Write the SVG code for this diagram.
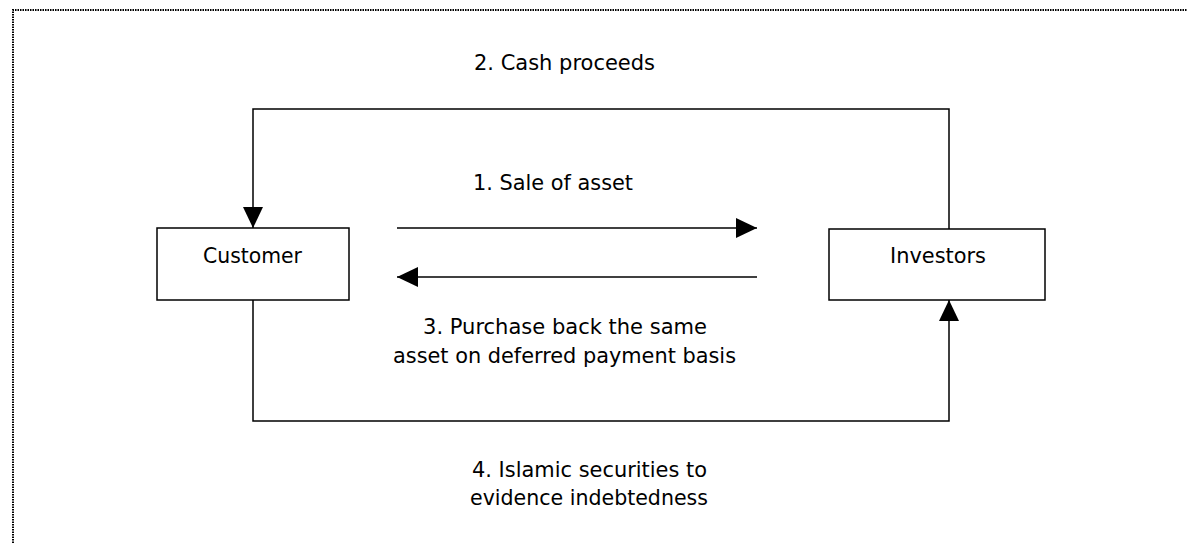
<svg xmlns="http://www.w3.org/2000/svg" width="1187" height="543" viewBox="0 0 1187 543">
<style>
.frame{fill:none;stroke:#000;stroke-width:2;stroke-dasharray:1.5 1}
.box{fill:#fff;stroke:#000;stroke-width:1.5}
.conn{fill:none;stroke:#000;stroke-width:1.5}
.lbl{font-family:"DejaVu Sans",Verdana,sans-serif;font-size:21px;fill:#000}
</style>
<defs>
<marker id="ah" viewBox="0 0 21 20" refX="21" refY="10" markerWidth="21" markerHeight="20" markerUnits="userSpaceOnUse" orient="auto">
<path d="M0,0 L21,10 L0,20 Z" fill="#000"/>
</marker>
</defs>
<rect width="1187" height="543" fill="#fff"/>
<path class="frame" d="M13,543 L13,10 L1187,10"/>
<g id="connectors">
<path class="conn" d="M949,229 L949,109 L253,109 L253,228" marker-end="url(#ah)"/>
<path class="conn" d="M253,300 L253,421 L949,421 L949,300" marker-end="url(#ah)"/>
<path class="conn" d="M397,228 L757,228" marker-end="url(#ah)"/>
<path class="conn" d="M757,277 L397,277" marker-end="url(#ah)"/>
</g>
<g id="customer">
<rect class="box" x="157" y="228" width="192" height="72"/>
<text class="lbl" x="203" y="263" textLength="99" lengthAdjust="spacingAndGlyphs">Customer</text>
</g>
<g id="investors">
<rect class="box" x="829" y="229" width="216" height="71"/>
<text class="lbl" x="890" y="263" textLength="96" lengthAdjust="spacingAndGlyphs">Investors</text>
</g>
<g id="labels">
<text class="lbl" x="474" y="70" textLength="181" lengthAdjust="spacingAndGlyphs">2. Cash proceeds</text>
<text class="lbl" x="473" y="190" textLength="160" lengthAdjust="spacingAndGlyphs">1. Sale of asset</text>
<text class="lbl" x="423" y="334" textLength="284" lengthAdjust="spacingAndGlyphs">3. Purchase back the same</text>
<text class="lbl" x="393" y="363" textLength="343" lengthAdjust="spacingAndGlyphs">asset on deferred payment basis</text>
<text class="lbl" x="472" y="477" textLength="235" lengthAdjust="spacingAndGlyphs">4. Islamic securities to</text>
<text class="lbl" x="470" y="505" textLength="238" lengthAdjust="spacingAndGlyphs">evidence indebtedness</text>
</g>
</svg>
